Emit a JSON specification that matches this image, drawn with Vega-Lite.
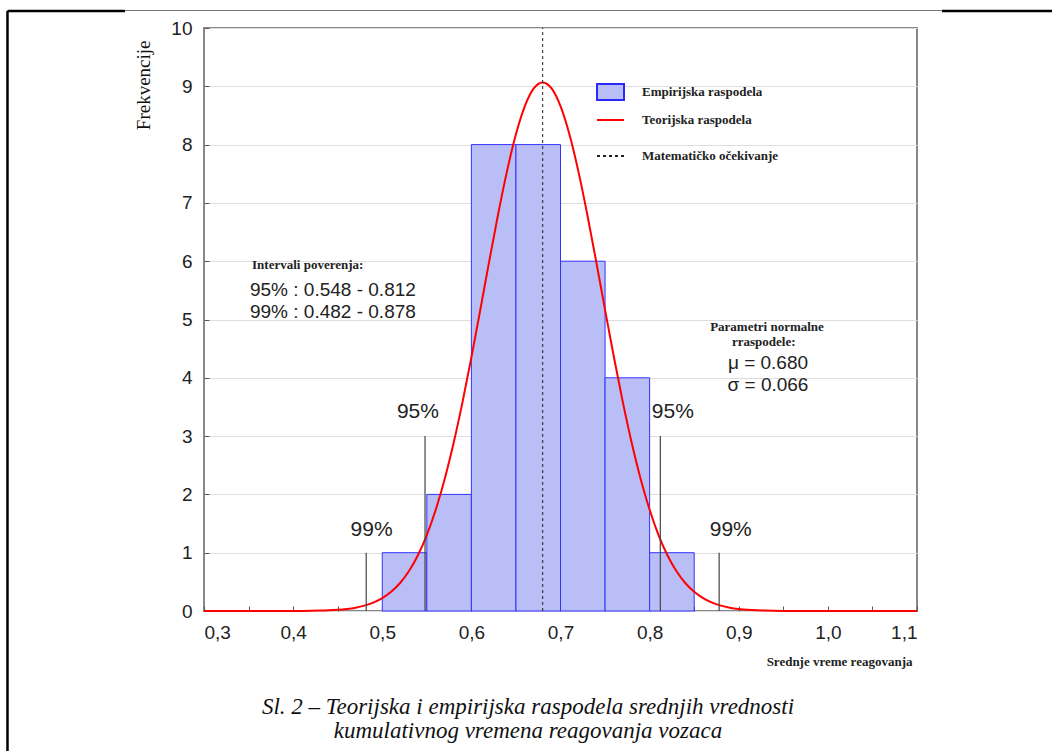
{
  "$schema": "https://vega.github.io/schema/vega-lite/v6.json",
  "autosize": {"type": "none"},
  "padding": {"left": 204, "top": 28, "right": 135, "bottom": 140},
  "width": 713,
  "height": 583,
  "background": "white",
  "config": {
    "view": {"stroke": "#888888", "strokeWidth": 2},
    "axis": {"domain": false, "tickColor": "#555555", "tickWidth": 1, "labelFont": "Liberation Sans", "labelFontSize": 19, "labelColor": "#222222", "gridColor": "#dddddd", "gridWidth": 1}
  },
  "datasets": {
    "bars": [
      {"lo": 0.50, "hi": 0.55, "n": 1, "b": 0, "k": "Empirijska raspodela"},
      {"lo": 0.55, "hi": 0.60, "n": 2, "b": 0, "k": "Empirijska raspodela"},
      {"lo": 0.60, "hi": 0.65, "n": 8, "b": 0, "k": "Empirijska raspodela"},
      {"lo": 0.65, "hi": 0.70, "n": 8, "b": 0, "k": "Empirijska raspodela"},
      {"lo": 0.70, "hi": 0.75, "n": 6, "b": 0, "k": "Empirijska raspodela"},
      {"lo": 0.75, "hi": 0.80, "n": 4, "b": 0, "k": "Empirijska raspodela"},
      {"lo": 0.80, "hi": 0.85, "n": 1, "b": 0, "k": "Empirijska raspodela"}
    ],
    "curve": [
      {"x": 0.30, "y": 0, "k": "Teorijska raspodela"}, {"x": 0.35, "y": 0, "k": "Teorijska raspodela"},
      {"x": 0.40, "y": 0.001, "k": "Teorijska raspodela"}, {"x": 0.41, "y": 0.002, "k": "Teorijska raspodela"},
      {"x": 0.42, "y": 0.004, "k": "Teorijska raspodela"}, {"x": 0.43, "y": 0.007, "k": "Teorijska raspodela"},
      {"x": 0.44, "y": 0.012, "k": "Teorijska raspodela"}, {"x": 0.45, "y": 0.021, "k": "Teorijska raspodela"},
      {"x": 0.46, "y": 0.035, "k": "Teorijska raspodela"}, {"x": 0.47, "y": 0.057, "k": "Teorijska raspodela"},
      {"x": 0.48, "y": 0.092, "k": "Teorijska raspodela"}, {"x": 0.49, "y": 0.144, "k": "Teorijska raspodela"},
      {"x": 0.50, "y": 0.220, "k": "Teorijska raspodela"}, {"x": 0.51, "y": 0.329, "k": "Teorijska raspodela"},
      {"x": 0.52, "y": 0.480, "k": "Teorijska raspodela"}, {"x": 0.53, "y": 0.685, "k": "Teorijska raspodela"},
      {"x": 0.54, "y": 0.956, "k": "Teorijska raspodela"}, {"x": 0.55, "y": 1.303, "k": "Teorijska raspodela"},
      {"x": 0.56, "y": 1.736, "k": "Teorijska raspodela"}, {"x": 0.57, "y": 2.261, "k": "Teorijska raspodela"},
      {"x": 0.58, "y": 2.877, "k": "Teorijska raspodela"}, {"x": 0.59, "y": 3.578, "k": "Teorijska raspodela"},
      {"x": 0.60, "y": 4.349, "k": "Teorijska raspodela"}, {"x": 0.61, "y": 5.166, "k": "Teorijska raspodela"},
      {"x": 0.62, "y": 5.997, "k": "Teorijska raspodela"}, {"x": 0.63, "y": 6.805, "k": "Teorijska raspodela"},
      {"x": 0.64, "y": 7.545, "k": "Teorijska raspodela"}, {"x": 0.65, "y": 8.176, "k": "Teorijska raspodela"},
      {"x": 0.66, "y": 8.659, "k": "Teorijska raspodela"}, {"x": 0.67, "y": 8.963, "k": "Teorijska raspodela"},
      {"x": 0.68, "y": 9.066, "k": "Teorijska raspodela"}, {"x": 0.69, "y": 8.963, "k": "Teorijska raspodela"},
      {"x": 0.70, "y": 8.659, "k": "Teorijska raspodela"}, {"x": 0.71, "y": 8.176, "k": "Teorijska raspodela"},
      {"x": 0.72, "y": 7.545, "k": "Teorijska raspodela"}, {"x": 0.73, "y": 6.805, "k": "Teorijska raspodela"},
      {"x": 0.74, "y": 5.997, "k": "Teorijska raspodela"}, {"x": 0.75, "y": 5.166, "k": "Teorijska raspodela"},
      {"x": 0.76, "y": 4.349, "k": "Teorijska raspodela"}, {"x": 0.77, "y": 3.578, "k": "Teorijska raspodela"},
      {"x": 0.78, "y": 2.877, "k": "Teorijska raspodela"}, {"x": 0.79, "y": 2.261, "k": "Teorijska raspodela"},
      {"x": 0.80, "y": 1.736, "k": "Teorijska raspodela"}, {"x": 0.81, "y": 1.303, "k": "Teorijska raspodela"},
      {"x": 0.82, "y": 0.956, "k": "Teorijska raspodela"}, {"x": 0.83, "y": 0.685, "k": "Teorijska raspodela"},
      {"x": 0.84, "y": 0.480, "k": "Teorijska raspodela"}, {"x": 0.85, "y": 0.329, "k": "Teorijska raspodela"},
      {"x": 0.86, "y": 0.220, "k": "Teorijska raspodela"}, {"x": 0.87, "y": 0.144, "k": "Teorijska raspodela"},
      {"x": 0.88, "y": 0.092, "k": "Teorijska raspodela"}, {"x": 0.89, "y": 0.057, "k": "Teorijska raspodela"},
      {"x": 0.90, "y": 0.035, "k": "Teorijska raspodela"}, {"x": 0.91, "y": 0.021, "k": "Teorijska raspodela"},
      {"x": 0.92, "y": 0.012, "k": "Teorijska raspodela"}, {"x": 0.93, "y": 0.007, "k": "Teorijska raspodela"},
      {"x": 0.94, "y": 0.004, "k": "Teorijska raspodela"}, {"x": 0.95, "y": 0.002, "k": "Teorijska raspodela"},
      {"x": 0.96, "y": 0.001, "k": "Teorijska raspodela"}, {"x": 1.00, "y": 0, "k": "Teorijska raspodela"},
      {"x": 1.05, "y": 0, "k": "Teorijska raspodela"}, {"x": 1.10, "y": 0, "k": "Teorijska raspodela"}
    ],
    "ci": [
      {"x": 0.482, "b": 0, "top": 1}, {"x": 0.548, "b": 0, "top": 3}, {"x": 0.812, "b": 0, "top": 3}, {"x": 0.878, "b": 0, "top": 1}
    ],
    "cilabels": [
      {"x": 0.488, "y": 1.39, "t": "99%"}, {"x": 0.540, "y": 3.41, "t": "95%"},
      {"x": 0.826, "y": 3.41, "t": "95%"}, {"x": 0.891, "y": 1.39, "t": "99%"}
    ],
    "mean": [{"x": 0.68, "y": 0, "y2": 10, "k": "Matematičko očekivanje"}],
    "caption": [
      {"x": 0.6635, "y": -1.647, "t": "Sl. 2 – Teorijska i empirijska raspodela srednjih vrednosti"},
      {"x": 0.6635, "y": -2.058, "t": "kumulativnog vremena reagovanja vozaca"}
    ],
    "frameThick": [
      {"x": 0.0795, "x2": 0.0795, "y": 10.292, "y2": -2.42},
      {"x": 0.0795, "x2": 0.2114, "y": 10.292, "y2": 10.292},
      {"x": 1.1281, "x2": 1.27, "y": 10.292, "y2": 10.292}
    ],
    "frameThin": [
      {"x": 0.2114, "x2": 1.1281, "y": 10.30, "y2": 10.30}
    ]
  },
  "layer": [
    {
      "data": {"name": "bars"},
      "mark": {"type": "rect", "stroke": "#3333ff", "strokeWidth": 1},
      "encoding": {
        "x": {
          "field": "lo", "type": "quantitative",
          "scale": {"domain": [0.3, 1.1], "nice": false, "zero": false},
          "axis": {
            "orient": "bottom",
            "values": [0.3, 0.35, 0.4, 0.45, 0.5, 0.55, 0.6, 0.65, 0.7, 0.75, 0.8, 0.85, 0.9, 0.95, 1.0, 1.05, 1.1],
            "labelExpr": "abs(round(datum.value*20) % 2) == 1 ? '' : replace(format(datum.value, '.1f'), '.', ',')",
            "tickSize": -5,
            "labelPadding": 17,
            "grid": false,
            "title": "Srednje vreme reagovanja",
            "titleFont": "Liberation Serif",
            "titleFontSize": 13,
            "titleFontWeight": "bold",
            "titleColor": "#222222",
            "titleAnchor": "end",
            "titleAlign": "right",
            "titleBaseline": "middle",
            "titleX": 708,
            "titleY": 50
          }
        },
        "x2": {"field": "hi"},
        "y": {
          "field": "n", "type": "quantitative",
          "scale": {"domain": [0, 10], "nice": false},
          "axis": {
            "orient": "left",
            "values": [0, 1, 2, 3, 4, 5, 6, 7, 8, 9, 10],
            "format": "d",
            "tickSize": -5,
            "labelPadding": 17,
            "grid": true,
            "title": "Frekvencije",
            "titleFont": "Liberation Serif",
            "titleFontSize": 19,
            "titleFontWeight": "normal",
            "titleColor": "#111111",
            "titleAngle": -90,
            "titleAlign": "right",
            "titleBaseline": "middle",
            "titleX": -61,
            "titleY": 12
          }
        },
        "y2": {"field": "b"},
        "fill": {
          "field": "k", "type": "nominal",
          "scale": {"domain": ["Empirijska raspodela"], "range": ["#babef7"]},
          "legend": {
            "title": null, "orient": "none", "legendX": 392, "legendY": 49.5,
            "symbolType": "M-1,-0.6H1V0.6H-1Z", "symbolSize": 729,
            "symbolStrokeColor": "#2a2aff", "symbolStrokeWidth": 2, "symbolOpacity": 1,
            "labelFont": "Liberation Serif", "labelFontSize": 13, "labelFontWeight": "bold", "labelColor": "#222222",
            "labelOffset": 17, "padding": 0
          }
        }
      }
    },
    {
      "data": {"name": "frameThick"},
      "mark": {"type": "rule", "color": "black", "strokeWidth": 2.5, "clip": false},
      "encoding": {
        "x": {"field": "x", "type": "quantitative"},
        "x2": {"field": "x2"},
        "y": {"field": "y", "type": "quantitative"},
        "y2": {"field": "y2"}
      }
    },
    {
      "data": {"name": "frameThin"},
      "mark": {"type": "rule", "color": "#777777", "strokeWidth": 1, "clip": false},
      "encoding": {
        "x": {"field": "x", "type": "quantitative"},
        "x2": {"field": "x2"},
        "y": {"field": "y", "type": "quantitative"},
        "y2": {"field": "y2"}
      }
    },
    {
      "data": {"name": "curve"},
      "mark": {"type": "line", "strokeWidth": 2, "interpolate": "monotone"},
      "encoding": {
        "x": {"field": "x", "type": "quantitative"},
        "y": {"field": "y", "type": "quantitative"},
        "stroke": {
          "field": "k", "type": "nominal",
          "scale": {"domain": ["Teorijska raspodela"], "range": ["#ff0000"]},
          "legend": {
            "title": null, "orient": "none", "legendX": 392, "legendY": 77.5,
            "symbolType": "stroke", "symbolSize": 729, "symbolStrokeWidth": 2,
            "labelFont": "Liberation Serif", "labelFontSize": 13, "labelFontWeight": "bold", "labelColor": "#222222",
            "labelOffset": 17, "padding": 0
          }
        }
      }
    },
    {
      "data": {"name": "mean"},
      "mark": {"type": "rule", "color": "#222222", "strokeWidth": 1},
      "encoding": {
        "x": {"field": "x", "type": "quantitative"},
        "y": {"field": "y", "type": "quantitative"},
        "y2": {"field": "y2"},
        "strokeDash": {
          "field": "k", "type": "nominal",
          "scale": {"domain": ["Matematičko očekivanje"], "range": [[3, 3]]},
          "legend": {
            "title": null, "orient": "none", "legendX": 392, "legendY": 113.5,
            "symbolType": "stroke", "symbolSize": 729, "symbolStrokeWidth": 2, "symbolStrokeColor": "#222222",
            "labelFont": "Liberation Serif", "labelFontSize": 13, "labelFontWeight": "bold", "labelColor": "#222222",
            "labelOffset": 17, "padding": 0
          }
        }
      }
    },
    {
      "data": {"name": "ci"},
      "mark": {"type": "rule", "color": "#444444", "strokeWidth": 1.2},
      "encoding": {
        "x": {"field": "x", "type": "quantitative"},
        "y": {"field": "b", "type": "quantitative"},
        "y2": {"field": "top"}
      }
    },
    {
      "data": {"name": "cilabels"},
      "mark": {"type": "text", "font": "Liberation Sans", "fontSize": 21, "color": "#222222", "align": "center", "baseline": "middle"},
      "encoding": {
        "x": {"field": "x", "type": "quantitative"},
        "y": {"field": "y", "type": "quantitative"},
        "text": {"field": "t"}
      }
    },
    {
      "data": {"values": [{"x": 0.3539, "y": 5.935, "t": "Intervali poverenja:"}]},
      "mark": {"type": "text", "font": "Liberation Serif", "fontSize": 13, "fontWeight": "bold", "color": "#222222", "align": "left", "baseline": "middle"},
      "encoding": {
        "x": {"field": "x", "type": "quantitative"},
        "y": {"field": "y", "type": "quantitative"},
        "text": {"field": "t"}
      }
    },
    {
      "data": {"values": [{"x": 0.3516, "y": 5.506, "t": "95% : 0.548 - 0.812"}, {"x": 0.3516, "y": 5.129, "t": "99% : 0.482 - 0.878"}]},
      "mark": {"type": "text", "font": "Liberation Sans", "fontSize": 19, "color": "#222222", "align": "left", "baseline": "middle"},
      "encoding": {
        "x": {"field": "x", "type": "quantitative"},
        "y": {"field": "y", "type": "quantitative"},
        "text": {"field": "t"}
      }
    },
    {
      "data": {"values": [{"x": 0.9317, "y": 4.871, "t": "Parametri normalne"}, {"x": 0.928, "y": 4.614, "t": "rraspodele:"}]},
      "mark": {"type": "text", "font": "Liberation Serif", "fontSize": 13, "fontWeight": "bold", "color": "#222222", "align": "center", "baseline": "middle"},
      "encoding": {
        "x": {"field": "x", "type": "quantitative"},
        "y": {"field": "y", "type": "quantitative"},
        "text": {"field": "t"}
      }
    },
    {
      "data": {"values": [{"x": 0.9328, "y": 4.254, "t": "μ = 0.680"}, {"x": 0.9328, "y": 3.877, "t": "σ = 0.066"}]},
      "mark": {"type": "text", "font": "Liberation Sans", "fontSize": 19, "color": "#222222", "align": "center", "baseline": "middle"},
      "encoding": {
        "x": {"field": "x", "type": "quantitative"},
        "y": {"field": "y", "type": "quantitative"},
        "text": {"field": "t"}
      }
    },
    {
      "data": {"name": "caption"},
      "mark": {"type": "text", "font": "Liberation Serif", "fontSize": 23, "fontStyle": "italic", "color": "#111111", "align": "center", "baseline": "middle", "clip": false},
      "encoding": {
        "x": {"field": "x", "type": "quantitative"},
        "y": {"field": "y", "type": "quantitative"},
        "text": {"field": "t"}
      }
    }
  ]
}
